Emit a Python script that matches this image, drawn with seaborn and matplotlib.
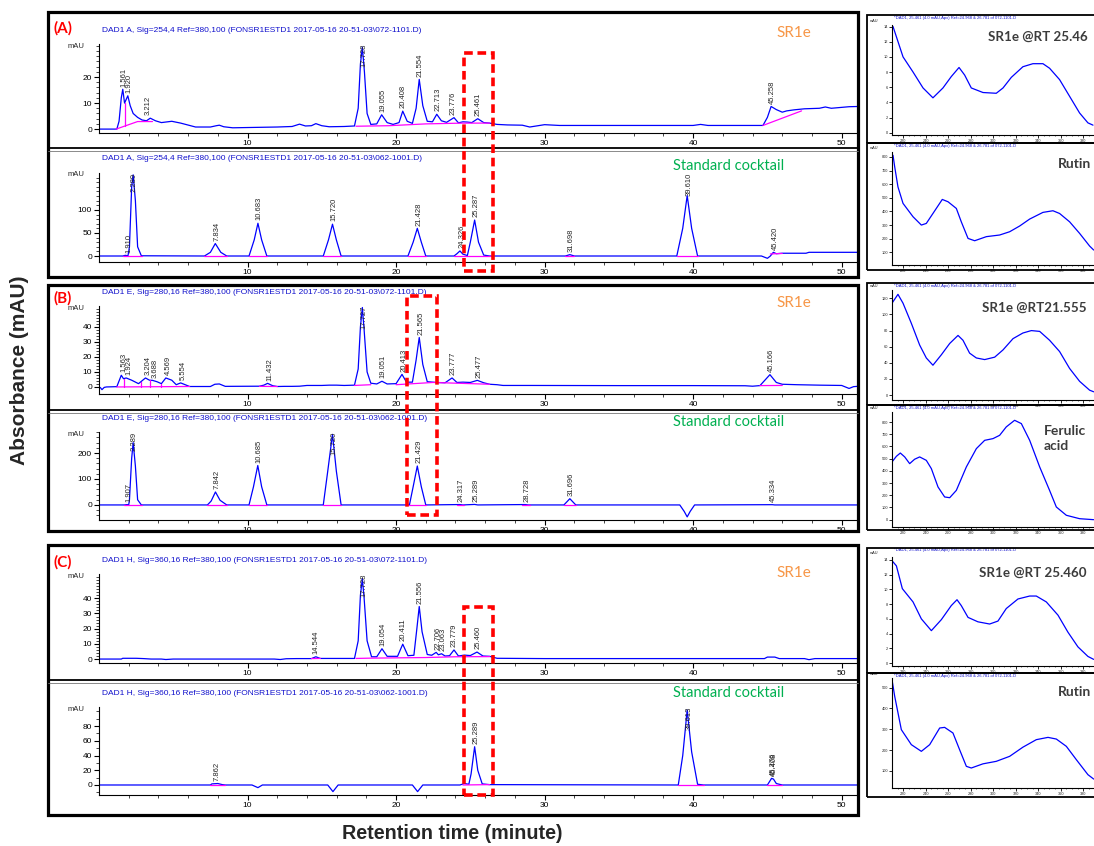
import numpy as np
import matplotlib
matplotlib.use("Agg")
import matplotlib.pyplot as plt
from matplotlib.patches import Rectangle
from matplotlib.lines import Line2D
import seaborn as sns

# ---------------- data ----------------
# Chromatogram traces: (retention time [min], absorbance [mAU])
A_TOP_TRACE = [(0, 0), (1.2, 0), (1.35, 3), (1.5, 12), (1.6, 15.3), (1.72, 10), (1.8, 11), (1.94, 12.8),
               (2.1, 9), (2.3, 6), (2.6, 4.5), (2.9, 3.5), (3.2, 3.2), (3.45, 4.2), (3.8, 3.2), (4.2, 2.5),
               (4.9, 3.0), (5.5, 2.3), (6.5, 0.8), (7.5, 0.8), (7.9, 1.3), (8.1, 1.5), (8.4, 0.9), (9.0, 0.5),
               (10, 0.6), (11, 0.7), (12, 0.8), (13.0, 1.0), (13.5, 1.9), (13.9, 1.2), (14.3, 1.3), (14.6, 2.1),
               (15.0, 1.3), (15.5, 0.9), (16.5, 1.0), (17.2, 1.2), (17.45, 8), (17.6, 25), (17.73, 31.5),
               (17.87, 22), (18.05, 6), (18.3, 1.8), (18.7, 2.0), (19.03, 5.5), (19.4, 2.5), (19.8, 1.8),
               (20.2, 2.5), (20.45, 6.9), (20.75, 3.0), (21.1, 2.2), (21.35, 8), (21.56, 19.1), (21.8, 9),
               (22.1, 3.0), (22.45, 2.8), (22.74, 5.7), (23.05, 3.2), (23.4, 2.6), (23.9, 4.4), (24.2, 2.4),
               (24.5, 2.8), (24.8, 2.7), (25.1, 2.5), (25.5, 4.0), (25.9, 2.5), (26.3, 2.3), (26.8, 1.8),
               (27.5, 1.6), (28.5, 1.5), (29, 0.8), (30, 1.7), (31, 1.4), (35, 1.4), (40, 1.4), (40.5, 1.8),
               (41, 1.4), (44.7, 1.4), (45.0, 4.5), (45.25, 8.7), (45.6, 7.5), (46.0, 6.5), (46.3, 7.0),
               (46.8, 7.4), (47.5, 7.8), (48.5, 8.0), (48.9, 8.5), (49.3, 8.0), (50.1, 8.4), (50.5, 8.6),
               (51.2, 8.7)]
A_TOP_BASE = [[(1.15, 0), (2.6, 2.9), (3.6, 2.9)], [(1.72, 1.1), (1.72, 10)],
              [(17.3, 1.1), (19.5, 1.3), (22.0, 2.0), (24.5, 2.3), (26.3, 2.3)],
              [(44.7, 1.4), (47.3, 7.0)]]
A_TOP_PEAKS = [(1.561, 15.3), (1.920, 12.8), (3.212, 4.2), (17.728, 31.5), (19.055, 5.5), (20.408, 6.9),
               (21.554, 19.1), (22.713, 5.7), (23.776, 4.4), (25.461, 4.0), (45.258, 8.7)]

A_BOT_TRACE = [(0, 0), (1.6, 0), (1.77, 1.5), (1.95, 0.5), (2.05, 20), (2.2, 150), (2.3, 176), (2.45, 120),
               (2.6, 20), (2.85, 0.5), (7.1, 0), (7.5, 8), (7.83, 27), (8.2, 8), (8.6, 0), (10.1, 0),
               (10.45, 35), (10.7, 71), (10.95, 35), (11.3, 0), (15.1, 0), (15.45, 35), (15.72, 69),
               (15.98, 35), (16.3, 0), (20.8, 0), (21.15, 30), (21.43, 60), (21.7, 30), (22.0, 0), (23.9, 0),
               (24.1, 5), (24.3, 11), (24.5, 4), (24.8, 1), (25.0, 30), (25.29, 78), (25.55, 30), (25.9, 2),
               (26.3, 0), (31.4, 0), (31.7, 3), (32, 0), (38.9, 0), (39.3, 60), (39.6, 131), (39.9, 60),
               (40.3, 0), (44.6, 0), (45.0, -5), (45.2, 0), (45.4, 8), (45.6, 5), (46.0, 6), (47.6, 6),
               (47.8, 8), (51.2, 8)]
A_BOT_BASE = [[(1.6, 0), (2.9, 0)], [(7.1, 0), (8.6, 0)], [(10.1, 0), (11.3, 0)], [(15.1, 0), (16.3, 0)],
              [(20.8, 0), (22.0, 0)], [(23.9, 0), (26.3, 0)], [(31.4, 0), (32.0, 0)], [(38.9, 0), (40.3, 0)],
              [(45.2, 4.5), (46.0, 5.5)]]
A_BOT_PEAKS = [(1.910, 1.5), (2.289, 176), (7.834, 27), (10.683, 71), (15.720, 69), (21.428, 60),
               (24.326, 11), (25.287, 78), (31.698, 3), (39.610, 131), (45.420, 8)]

B_TOP_TRACE = [(0, 0), (0.1, -0.5), (0.2, -1.8), (0.35, -0.3), (0.5, 0), (1.2, 0.2), (1.5, 7.8), (1.65, 5.5),
               (1.83, 6), (2.2, 4.5), (2.66, 2.2), (3.13, 6), (3.4, 4.5), (3.6, 4.4), (3.9, 3.5), (4.2, 2.2),
               (4.5, 6), (4.9, 4.5), (5.2, 1.5), (5.5, 2.7), (5.8, 1.5), (6.1, 0.3), (7.5, 0.3), (7.8, 1.8),
               (8.1, 2), (8.5, 0.4), (10.8, 0.5), (11.1, 1.2), (11.35, 2.4), (11.7, 0.8), (12, 0.3),
               (12.5, 0.4), (13, 0.4), (13.5, 0.5), (14, 1), (15, 1), (15.5, 1.2), (16, 1.2), (16.5, 1.0),
               (17.2, 1.2), (17.45, 12), (17.6, 40), (17.73, 53), (17.85, 38), (18.05, 10), (18.3, 2.5),
               (18.7, 2.0), (19.05, 3.8), (19.4, 2.0), (20.0, 2.2), (20.4, 8.4), (20.7, 3.2), (21.1, 3.2),
               (21.35, 18), (21.56, 33), (21.8, 15), (22.1, 3.5), (22.7, 3.0), (23.3, 2.8), (23.77, 6.0),
               (24.1, 3.0), (24.5, 3.2), (25.0, 3.0), (25.47, 4.4), (25.9, 2.8), (26.3, 1.8), (26.8, 1.5),
               (27.2, 1.0), (29, 1.0), (35, 0.9), (40, 0.9), (43.5, 0.8), (44, 0.5), (44.5, 0.9),
               (45.17, 8.2), (45.6, 3), (46, 1.8), (47, 1.5), (48.5, 1.2), (50, 1.0), (50.5, -1),
               (50.8, 0.2), (51.2, 0.5)]
B_TOP_BASE = [[(1.2, 0), (6.1, 0.3)], [(1.7, 0.1), (1.7, 5.5)], [(2.85, 0.1), (2.85, 3.2)],
              [(3.4, 0.1), (3.4, 4.5)], [(4.2, 0.2), (4.2, 2.2)], [(10.8, 0.4), (12.0, 0.3)],
              [(17.2, 1.0), (18.3, 1.5)], [(20.0, 1.5), (22.5, 3.0), (26.3, 1.8)], [(44.5, 0.9), (46.0, 1.0)]]
B_TOP_PEAKS = [(1.563, 7.8), (1.924, 6), (3.204, 6), (3.688, 4.4), (4.569, 6), (5.554, 2.7), (11.432, 2.4),
               (17.727, 53), (19.051, 3.8), (20.413, 8.4), (21.565, 33), (23.777, 6), (25.477, 4.4),
               (45.166, 8.2)]

B_BOT_TRACE = [(0, 0), (1.7, 0), (1.9, 1.5), (2.0, 0), (2.05, 20), (2.2, 180), (2.3, 240), (2.45, 150),
               (2.6, 20), (2.85, 0), (7.3, 0), (7.55, 15), (7.84, 50), (8.15, 18), (8.6, 0), (10.1, 0),
               (10.4, 70), (10.69, 152), (10.95, 70), (11.3, 0), (15.1, 0), (15.4, 130), (15.72, 272),
               (15.98, 130), (16.3, 0), (20.9, 0), (21.15, 70), (21.43, 150), (21.7, 70), (22.0, 0),
               (24.3, 1.5), (24.5, 0), (25.29, 2), (25.5, 0), (28.7, 1.5), (28.9, 0), (31.3, 0), (31.7, 24),
               (32.1, 0), (39.1, 0), (39.4, -25), (39.6, -46), (39.8, -25), (40.1, 0), (45.33, 1),
               (45.5, 0), (51.2, 0)]
B_BOT_BASE = [[(1.7, 0), (2.9, 0)], [(7.3, 0), (8.6, 0)], [(10.1, 0), (11.3, 0)], [(15.1, 0), (16.3, 0)],
              [(20.9, 0), (22.0, 0)], [(24.1, 0), (24.6, 0)], [(28.5, 0), (29.0, 0)], [(31.3, 0), (32.1, 0)]]
B_BOT_PEAKS = [(1.907, 1.5), (2.289, 240), (7.842, 50), (10.685, 152), (15.720, 272), (21.429, 150),
               (24.317, 1.5), (25.289, 2), (28.728, 1.5), (31.696, 24), (45.334, 1)]

C_TOP_TRACE = [(0, 0), (1.5, 0), (1.6, 0.5), (2.5, 0.5), (3, 0.3), (3.5, 0), (4.2, 0), (4.5, -0.3), (5, 0),
               (11.8, 0), (12.2, -0.3), (12.6, 0.2), (13.3, 0.3), (14.3, 0.3), (14.6, 1.5), (14.9, 0.4),
               (17.2, 0.4), (17.45, 12), (17.6, 42), (17.73, 53), (17.85, 40), (18.05, 12), (18.35, 1.5),
               (18.7, 1.5), (19.05, 6.8), (19.4, 1.8), (20.1, 1.8), (20.45, 9.8), (20.8, 2.2), (21.2, 2.5),
               (21.4, 20), (21.56, 34.6), (21.75, 18), (22.1, 3.0), (22.4, 2.5), (22.7, 4.4), (22.85, 2.8),
               (23.06, 3.5), (23.3, 2.0), (23.6, 2.2), (23.9, 6), (24.2, 2.0), (24.6, 2.6), (25.0, 2.3),
               (25.45, 4.6), (25.85, 2.0), (26.3, 1.8), (26.8, 0.5), (30, 0.3), (40, 0.3), (44.8, 0.3),
               (45.0, 1.3), (45.5, 1.3), (45.8, 0.3), (47.5, 0.3), (47.8, -0.4), (48.2, 0.3), (51.2, 0.3)]
C_TOP_BASE = [[(14.3, 0.3), (14.9, 0.4)], [(17.3, 0.4), (18.3, 0.6), (22.0, 1.0), (24.0, 1.5), (26.3, 1.6)]]
C_TOP_PEAKS = [(14.544, 1.5), (17.728, 53), (19.054, 6.8), (20.411, 9.8), (21.556, 34.6), (22.706, 4.4),
               (23.063, 3.5), (23.779, 6), (25.460, 4.6)]

C_BOT_TRACE = [(0, 0), (7.5, 0), (7.6, 1.5), (8.0, 2), (8.3, 0.5), (8.5, 0), (10.3, 0), (10.7, -3.6),
               (11.0, 0), (15.4, 0), (15.75, -9), (16.1, 0), (21.1, 0), (21.45, -9), (21.8, 0), (24.3, 0),
               (24.6, 2), (24.9, 1), (25.05, 15), (25.29, 52), (25.5, 20), (25.8, 1.5), (26.3, 0.5),
               (39.0, 0), (39.3, 40), (39.6, 102), (39.9, 45), (40.3, 1), (40.7, 0), (45.0, 0), (45.28, 9),
               (45.41, 8), (45.6, 2), (46.0, 0), (51.2, 0)]
C_BOT_BASE = [[(7.5, 0), (8.5, 0)], [(24.5, 0), (26.3, 0.5)], [(39.0, 0), (40.7, 0)], [(45.0, 0), (46.0, 0)]]
C_BOT_PEAKS = [(7.862, 2), (25.289, 52), (39.613, 102), (45.276, 9), (45.408, 8)]

# UV spectra: (wavelength [nm], absorbance)
SPEC_A1 = [(210.9, 14.0), (219.8, 10.0), (228.7, 8.0), (237.6, 5.9), (246.4, 4.6), (255.3, 5.9), (262.7, 7.4),
           (269.6, 8.6), (274.6, 7.6), (280.5, 5.9), (290.9, 5.3), (302.7, 5.2), (308.7, 5.9), (316.1, 7.3),
           (326.4, 8.7), (335.3, 9.1), (344.2, 9.1), (350.1, 8.5), (359.0, 7.0), (367.9, 4.8), (376.8, 2.6),
           (384.2, 1.3), (388.7, 1.0)]
SPEC_A2 = [(210.9, 812), (212.4, 727), (215.3, 580), (219.8, 459), (228.7, 361), (236.1, 300), (240.5, 312),
           (246.4, 385), (254.7, 488), (259.8, 471), (267.2, 422), (271.6, 324), (277.6, 202), (283.5, 185),
           (293.9, 215), (305.7, 227), (314.6, 251), (323.5, 293), (332.4, 344), (344.2, 393), (353.1, 405),
           (359.0, 385), (367.9, 324), (376.8, 239), (385.7, 146), (389.3, 117)]
SPEC_B1 = [(210, 114), (215.3, 125), (219.8, 114), (227.2, 89), (234.6, 62), (240.5, 46), (246.4, 37),
           (253.9, 50), (261.3, 64), (268.7, 74), (273.1, 68), (279.0, 52), (285.0, 46), (292.4, 44),
           (301.3, 47), (308.7, 56), (317.6, 70), (326.4, 77), (333.9, 80), (341.3, 79), (350.1, 68),
           (359.0, 54), (367.9, 33), (376.8, 17), (385.7, 6), (389.3, 4)]
SPEC_B2 = [(210, 473), (213.9, 519), (217.4, 546), (221.3, 514), (225.7, 459), (230.1, 495), (234.6, 514),
           (240.5, 486), (245.0, 418), (250.9, 268), (256.8, 186), (261.3, 180), (267.2, 240), (276.1, 432),
           (285.0, 582), (292.4, 650), (299.8, 664), (305.7, 691), (311.6, 760), (319.0, 814), (325.0, 787),
           (332.4, 650), (341.3, 432), (350.1, 240), (356.1, 104), (365.0, 36), (376.8, 8), (389.3, 0)]
SPEC_C1 = [(210, 13.9), (213.9, 13.2), (219.2, 10.1), (228.7, 8.3), (236.1, 6.0), (245.0, 4.4), (253.9, 5.9),
           (262.7, 7.8), (267.8, 8.6), (271.6, 7.8), (277.6, 6.2), (286.4, 5.6), (296.8, 5.3), (304.2, 5.7),
           (311.6, 7.4), (322.0, 8.7), (332.4, 9.1), (338.3, 9.1), (347.2, 8.3), (357.6, 6.5), (366.4, 4.2),
           (375.3, 2.2), (384.2, 0.9), (389.3, 0.5)]
SPEC_C2 = [(210, 538), (212.4, 458), (218.3, 298), (227.2, 226), (236.1, 194), (243.5, 226), (252.4, 306),
           (256.8, 309), (264.2, 282), (270.1, 202), (276.1, 122), (280.5, 114), (290.9, 134), (302.7, 146),
           (314.6, 170), (326.4, 214), (338.3, 250), (348.7, 261), (356.1, 253), (365.0, 218), (373.9, 154),
           (384.2, 82), (389.3, 61)]

X_TICKS = [10, 20, 30, 40, 50]
SPEC_X_TICKS = [220, 240, 260, 280, 300, 320, 340, 360, 380]

HEAD_A1 = r"DAD1 A, Sig=254,4 Ref=380,100 (FONSR1ESTD1 2017-05-16 20-51-03\072-1101.D)"
HEAD_A2 = r"DAD1 A, Sig=254,4 Ref=380,100 (FONSR1ESTD1 2017-05-16 20-51-03\062-1001.D)"
HEAD_B1 = r"DAD1 E, Sig=280,16 Ref=380,100 (FONSR1ESTD1 2017-05-16 20-51-03\072-1101.D)"
HEAD_B2 = r"DAD1 E, Sig=280,16 Ref=380,100 (FONSR1ESTD1 2017-05-16 20-51-03\062-1001.D)"
HEAD_C1 = r"DAD1 H, Sig=360,16 Ref=380,100 (FONSR1ESTD1 2017-05-16 20-51-03\072-1101.D)"
HEAD_C2 = r"DAD1 H, Sig=360,16 Ref=380,100 (FONSR1ESTD1 2017-05-16 20-51-03\062-1001.D)"
SPEC_HEAD = "*DAD1, 25.461 (4.0 mAU,Apx) Ref=24.968 & 26.781 of 072-1101.D"

# ---------------- figure ----------------
W, H = 1094, 846
sns.set_style("ticks")
plt.rcParams['font.family'] = ['Liberation Sans', 'DejaVu Sans']
fig = plt.figure(figsize=(W / 100, H / 100), dpi=100)


def frect(x0, y0, x1, y1):
    return [x0 / W, 1 - y1 / H, (x1 - x0) / W, (y1 - y0) / H]


def ftext(x, y, s, **kw):
    fig.text(x / W, 1 - y / H, s, **kw)


def draw_chrom(box, trace, bases, peaks, ylim, yticks, yminor, header):
    x0, y0, x1, y1 = box
    ax = fig.add_axes(frect(x0, y0, x1, y1))
    ax.patch.set_alpha(0)
    t, v = map(np.array, zip(*trace))
    sns.lineplot(x=t, y=v, ax=ax, color='#0000FF', lw=0.9, sort=False, estimator=None)
    for seg in bases:
        bt, bv = zip(*seg)
        ax.plot(bt, bv, color='#FF00FF', lw=0.9)
    ax.set_xlim(0, 51.1)
    ax.set_ylim(*ylim)
    ax.set_xticks(X_TICKS)
    ax.set_xticks([m for m in range(2, 51, 2) if m % 10], minor=True)
    ax.set_yticks(yticks)
    ax.set_yticks(yminor, minor=True)
    ax.tick_params(which='major', length=3.5, width=0.8, labelsize=6, pad=1.5, colors='black')
    ax.tick_params(which='minor', length=2, width=0.6)
    for s in ['top', 'right']:
        ax.spines[s].set_visible(False)
    for s in ['left', 'bottom']:
        ax.spines[s].set_linewidth(0.8)
        ax.spines[s].set_color('black')
    ax.set_xlabel('')
    ax.set_ylabel('')
    dpp = (ylim[1] - ylim[0]) / (y1 - y0)
    for rt, h in peaks:
        lab = f"{rt:.3f}"
        if (ylim[1] - h) / dpp < 30:
            ax.annotate(lab, xy=(rt, ylim[1]), xytext=(1, 0), textcoords='offset points', rotation=90,
                        ha='center', va='top', fontsize=5.5, annotation_clip=False)
        else:
            ax.annotate(lab, xy=(rt, h), xytext=(1, 2), textcoords='offset points', rotation=90,
                        ha='center', va='bottom', fontsize=5.5)
    ftext(76, y0 + 2, 'mAU', fontsize=5.5, ha='center', va='center')
    ftext(102, y0 - 14, header, fontsize=6, color='#1010CC', ha='left', va='center')
    return ax


def draw_spec(box, frame_top, data, ylim, yticks, title, tpos, fs=10):
    x0, y0, x1, y1 = box
    ax = fig.add_axes(frect(x0, y0, x1, y1))
    ax.patch.set_alpha(0)
    wl, val = map(np.array, zip(*data))
    sns.lineplot(x=wl, y=val, ax=ax, color='#0000FF', lw=0.9, sort=False, estimator=None)
    ax.set_xlim(210, 389.6)
    ax.set_ylim(*ylim)
    ax.set_xticks(SPEC_X_TICKS)
    ax.set_xticks(np.arange(215, 390, 5), minor=True)
    ax.set_yticks(yticks)
    ax.tick_params(which='major', length=2, width=0.7, labelsize=2.8, pad=0.6)
    ax.tick_params(which='minor', length=1, width=0.5)
    for s in ['top', 'right']:
        ax.spines[s].set_visible(False)
    for s in ['left', 'bottom']:
        ax.spines[s].set_linewidth(0.8)
        ax.spines[s].set_color('black')
    ax.set_xlabel('')
    ax.set_ylabel('')
    ftext(874, y0 - 4, 'mAU', fontsize=2.8, ha='center', va='center')
    ftext(894, frame_top + 2.5, SPEC_HEAD, fontsize=3.0, color='#1010CC', ha='left', va='center')
    ftext(tpos[0], tpos[1], title, fontsize=fs, color='#3C3C3C', fontweight='bold',
          family=['Lato', 'DejaVu Sans'], ha='left', va='center', linespacing=1.3)
    return ax


# Chromatograms
draw_chrom((99, 44, 858, 133), A_TOP_TRACE, A_TOP_BASE, A_TOP_PEAKS, (-1.5, 32.7), [0, 10, 20],
           [2, 4, 6, 8, 12, 14, 16, 18, 22, 24, 26, 28, 30, 32], HEAD_A1)
draw_chrom((99, 173, 858, 262), A_BOT_TRACE, A_BOT_BASE, A_BOT_PEAKS, (-13, 180), [0, 50, 100],
           [10, 20, 30, 40, 60, 70, 80, 90, 110, 120, 130, 140, 150, 160, 170], HEAD_A2)
draw_chrom((99, 306, 858, 394), B_TOP_TRACE, B_TOP_BASE, B_TOP_PEAKS, (-4.7, 54), [0, 10, 20, 30, 40],
           [2, 4, 6, 8, 12, 14, 16, 18, 22, 24, 26, 28, 32, 34, 36, 38, 42, 44, 46, 48, 50, 52], HEAD_B1)
draw_chrom((99, 432, 858, 520), B_BOT_TRACE, B_BOT_BASE, B_BOT_PEAKS, (-58, 281), [0, 100, 200],
           [-40, -20, 20, 40, 60, 80, 120, 140, 160, 180, 220, 240, 260, 280], HEAD_B2)
draw_chrom((99, 574, 858, 663), C_TOP_TRACE, C_TOP_BASE, C_TOP_PEAKS, (-2.6, 56), [0, 10, 20, 30, 40],
           [2, 4, 6, 8, 12, 14, 16, 18, 22, 24, 26, 28, 32, 34, 36, 38, 42, 44, 46, 48, 50, 52, 54], HEAD_C1)
draw_chrom((99, 707, 858, 795), C_BOT_TRACE, C_BOT_BASE, C_BOT_PEAKS, (-13.6, 106), [0, 20, 40, 60, 80],
           [-10, 10, 30, 50, 70, 90, 100], HEAD_C2)

# Spectra
draw_spec((892, 25, 1094, 135), 15, SPEC_A1, (-0.3, 14.2), [0, 2, 4, 6, 8, 10, 12, 14],
          "SR1e @RT 25.46", (988, 37), fs=9.6)
draw_spec((892, 152, 1094, 265), 143, SPEC_A2, (7, 836), [100, 200, 300, 400, 500, 600, 700, 800],
          "Rutin", (1058, 164))
draw_spec((892, 290, 1094, 400), 283, SPEC_B1, (-6.2, 130.4), [0, 20, 40, 60, 80, 100, 120],
          "SR1e @RT21.555", (982, 308), fs=9.6)
draw_spec((892, 412, 1094, 527), 405, SPEC_B2, (-60, 882), [0, 100, 200, 300, 400, 500, 600, 700, 800],
          "Ferulic\nacid", (1044, 438))
draw_spec((892, 557, 1094, 666), 548, SPEC_C1, (-0.4, 14.4), [0, 2, 4, 6, 8, 10, 12, 14],
          "SR1e @RT 25.460", (979, 573), fs=9.6)
draw_spec((892, 678, 1094, 788), 673, SPEC_C2, (18, 546), [100, 200, 300, 400, 500],
          "Rutin", (1058, 692))


def rect(x0, y0, x1, y1, **kw):
    fig.add_artist(Rectangle((x0 / W, 1 - y1 / H), (x1 - x0) / W, (y1 - y0) / H,
                             transform=fig.transFigure, fill=False, **kw))


def hline(x0, x1, y, **kw):
    fig.add_artist(Line2D([x0 / W, x1 / W], [1 - y / H, 1 - y / H], transform=fig.transFigure, **kw))


# Panel boxes and separators
for (yt, yb, ysep) in [(12, 277, 148), (285, 531, 410), (545, 815, 680)]:
    rect(48, yt, 858, yb, lw=2.3, edgecolor='black', zorder=5)
    hline(48, 858, ysep, color='black', lw=1.3, zorder=5)
    hline(48, 858, ysep + 3, color='#777777', lw=0.6, zorder=5)

# Spectrum frames
for (yt, ym, yb) in [(15, 143, 270), (283, 405, 530), (548, 673, 797)]:
    rect(867, yt, 1100, ym, lw=1.3, edgecolor='black', zorder=5)
    rect(867, ym, 1100, yb, lw=1.3, edgecolor='black', zorder=5)

# Dashed red highlight boxes
for (xa, ya, xb, yb) in [(464, 53, 493, 271), (407, 296, 437, 515), (464, 607, 493, 795)]:
    rect(xa, ya, xb, yb, lw=2.6, edgecolor='#FF0000', linestyle=(0, (2.4, 1.3)), zorder=6)

# Panel tags and sample names
for tag, y in [("(A)", 28), ("(B)", 298), ("(C)", 562)]:
    ftext(53, y, tag, fontsize=11, color='#FF0000', fontweight='bold', family=['Lato', 'DejaVu Sans'],
          ha='left', va='center')
for y in [33, 303, 573]:
    ftext(776, y, "SR1e", fontsize=11, color='#F79646', family=['Lato', 'DejaVu Sans'], ha='left', va='center')
for y in [166, 422, 693]:
    ftext(673, y, "Standard cocktail", fontsize=10.5, color='#00B050', family=['Lato', 'DejaVu Sans'],
          ha='left', va='center')

# Axis titles
ftext(20, 370, "Absorbance (mAU)", fontsize=15, fontweight='bold', rotation=90, ha='center', va='center')
ftext(452, 833, "Retention time (minute)", fontsize=14.2, fontweight='bold', ha='center', va='center')

fig.savefig("out.png", dpi=100)
